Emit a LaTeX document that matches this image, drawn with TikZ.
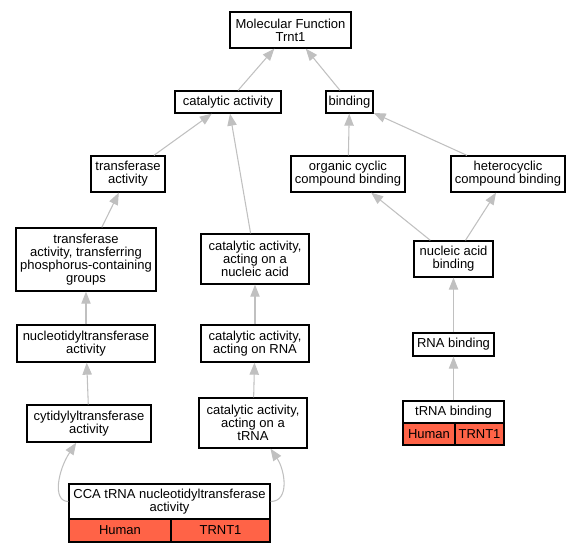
\documentclass[tikz,border=0pt]{standalone}
\usepackage{fontspec}
\setmainfont{Liberation Sans}
\usetikzlibrary{arrows.meta}
\newdimen\pxu \pxu=0.75pt
\definecolor{edgegray}{RGB}{192,192,192}
\definecolor{tomatofill}{RGB}{255,99,71}
\tikzset{
 box/.style={draw=black, line width=1pt, fill=white, inner sep=0pt, align=center, font=\fontsize{9.75pt}{9.6pt}\selectfont, anchor=center},
 cell/.style={box, fill=tomatofill},
 edge/.style={draw=edgegray, line width=0.8pt, -{Triangle[length=9pt,width=7pt]}},
}
\begin{document}
\begin{tikzpicture}[x=0.75pt,y=-0.75pt]
\useasboundingbox (0,0) rectangle (581,552);
\node[box, minimum width=121\pxu, minimum height=36\pxu] (mf) at (290.5,30) {Molecular Function\\Trnt1};
\node[box, minimum width=106\pxu, minimum height=22\pxu] (cat) at (228,102) {catalytic activity};
\node[box, minimum width=47\pxu, minimum height=22\pxu] (bind) at (349.5,102) {binding};
\node[box, minimum width=74\pxu, minimum height=36\pxu] (trans) at (128,174) {transferase\\activity};
\node[box, minimum width=114\pxu, minimum height=36\pxu] (org) at (348,174) {organic cyclic\\compound binding};
\node[box, minimum width=114\pxu, minimum height=36\pxu] (het) at (508,174) {heterocyclic\\compound binding};
\node[box, minimum width=140\pxu, minimum height=63\pxu] (transp) at (86,259.5) {transferase\\activity, transferring\\phosphorus-containing\\groups};
\node[box, minimum width=108\pxu, minimum height=50\pxu] (canuc) at (255,259) {catalytic activity,\\acting on a\\nucleic acid};
\node[box, minimum width=79\pxu, minimum height=36\pxu] (nab) at (453.5,259) {nucleic acid\\binding};
\node[box, minimum width=138\pxu, minimum height=37\pxu] (nuc) at (86,343.5) {nucleotidyltransferase\\activity};
\node[box, minimum width=108\pxu, minimum height=37\pxu] (carna) at (255,343.5) {catalytic activity,\\acting on RNA};
\node[box, minimum width=81\pxu, minimum height=23\pxu] (rnab) at (453.5,344.5) {RNA binding};
\node[box, minimum width=124\pxu, minimum height=37\pxu] (cyt) at (89,423.5) {cytidylyltransferase\\activity};
\node[box, minimum width=108\pxu, minimum height=50\pxu] (catrna) at (253,423) {catalytic activity,\\acting on a\\tRNA};
\node[box, minimum width=101\pxu, minimum height=22\pxu] (trnab) at (453.5,412) {tRNA binding};
\node[cell, minimum width=52\pxu, minimum height=22\pxu] (trnabh) at (429,434) {Human};
\node[cell, minimum width=49\pxu, minimum height=22\pxu] (trnabg) at (479.5,434) {TRNT1};
\node[box, minimum width=201\pxu, minimum height=35\pxu] (cca) at (169.5,501.5) {CCA tRNA nucleotidyltransferase\\activity};
\node[cell, minimum width=102\pxu, minimum height=23\pxu] (ccah) at (120,530.5) {Human};
\node[cell, minimum width=99\pxu, minimum height=23\pxu] (ccag) at (220.5,530.5) {TRNT1};
\draw[edge] (cat) -- (mf);
\draw[edge] (bind) -- (mf);
\draw[edge] (trans) -- (cat);
\draw[edge] (canuc) -- (cat);
\draw[edge] (org) -- (bind);
\draw[edge] (het) -- (bind);
\draw[edge] (transp) -- (trans);
\draw[edge] (nab) -- (org);
\draw[edge] (nab) -- (het);
\draw[edge] (nuc) -- (transp);
\draw[edge] (carna) -- (canuc);
\draw[edge] (rnab) -- (nab);
\draw[edge] (cyt) -- (nuc);
\draw[edge] (catrna) -- (carna);
\draw[edge] (trnab) -- (rnab);
\draw[edge] (cca.west) .. controls (52,501.5) and (58,470) .. (cyt);
\draw[edge] (cca.east) .. controls (290,501.5) and (285,470) .. (catrna);
\end{tikzpicture}
\end{document}
